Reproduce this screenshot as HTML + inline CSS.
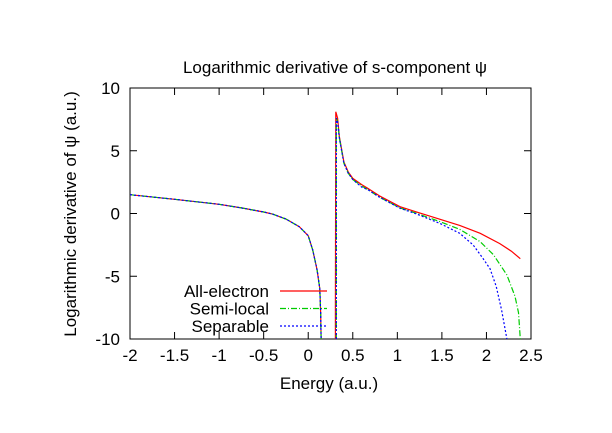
<!DOCTYPE html>
<html><head><meta charset="utf-8"><style>
html,body{margin:0;padding:0;background:#fff}
svg text{font-family:"Liberation Sans",sans-serif;font-size:17px;fill:#000}
</style></head><body>
<svg id="chart" width="612" height="428" xmlns="http://www.w3.org/2000/svg">
<text x="335" y="73" text-anchor="middle">Logarithmic derivative of s-component ψ</text>
<text x="329" y="389" text-anchor="middle">Energy (a.u.)</text>
<text transform="translate(76,214) rotate(-90)" text-anchor="middle">Logarithmic derivative of ψ (a.u.)</text>
<g id="axes"></g>
<g id="series"></g>
<g id="legend"></g>
</svg>
<script>
const xTicks=[-2,-1.5,-1,-0.5,0,0.5,1,1.5,2,2.5];
const yTicks=[-10,-5,0,5,10];
const leftX=[-2,-1.5,-1,-0.75,-0.5,-0.4,-0.25,-0.1,0,0.05,0.1,0.13,0.14,0.145];
const leftY=[1.5,1.13,0.73,0.45,0.12,-0.05,-0.44,-1.05,-1.77,-2.9,-4.5,-6.0,-8,-10];
const aeX=[0.305,0.305,0.31,0.33,0.35,0.4,0.45,0.5,0.6,0.67,0.8,1.03,1.2,1.48,1.7,1.93,2.15,2.28,2.38];
const aeY=[-10,-7.6,8.1,7.6,6.1,4.1,3.3,2.8,2.3,2.0,1.4,0.54,0.15,-0.46,-0.95,-1.58,-2.4,-3.0,-3.6];
const slX=[0.315,0.315,0.33,0.35,0.4,0.45,0.5,0.6,0.67,0.8,1.03,1.2,1.48,1.7,1.93,2.08,2.23,2.32,2.36,2.38];
const slY=[-10,7.6,7.3,6.0,4.0,3.2,2.7,2.2,1.9,1.3,0.45,0.05,-0.65,-1.26,-2.25,-3.3,-4.9,-6.6,-7.9,-10];
const spX=[0.315,0.315,0.33,0.35,0.4,0.45,0.5,0.6,0.67,0.8,1.03,1.2,1.48,1.7,1.85,1.96,2.04,2.11,2.17,2.23];
const spY=[-10,7.6,7.3,6.0,4.0,3.2,2.7,2.1,1.9,1.3,0.42,0.0,-0.8,-1.58,-2.5,-3.57,-4.4,-5.8,-7.7,-10];
const L=130,R=531,T=88,B=339;
const sx=v=>L+(v+2)/4.5*(R-L);
const sy=v=>B-(v+10)/20*(B-T);
const NS="http://www.w3.org/2000/svg";
function mk(tag,attrs,parent){const e=document.createElementNS(NS,tag);for(const k in attrs)e.setAttribute(k,attrs[k]);parent.appendChild(e);return e;}
const axes=document.getElementById('axes');
const frame=mk('rect',{x:L,y:T,width:R-L,height:B-T,fill:'none',stroke:'#000','stroke-width':1},axes);


xTicks.forEach(v=>{
  const x=sx(v);
  const t1=mk('line',{x1:x,x2:x,y1:B,y2:B-7,stroke:'#000'},axes);
  
  
  const t2=mk('line',{x1:x,x2:x,y1:T,y2:T+7,stroke:'#000'},axes);
  
  
  const lb=mk('text',{x:x,y:B+22,'text-anchor':'middle'},axes);lb.textContent=String(v);
  
  
});
yTicks.forEach(v=>{
  const y=sy(v);
  const t1=mk('line',{x1:L,x2:L+7,y1:y,y2:y,stroke:'#000'},axes);
  
  
  const t2=mk('line',{x1:R,x2:R-7,y1:y,y2:y,stroke:'#000'},axes);
  
  
  const lb=mk('text',{x:L-10,y:y+6,'text-anchor':'end'},axes);lb.textContent=String(v);
  
  
});
const ser=document.getElementById('series');
function line(xs,ys,color,dash,name){
  const d=xs.map((x,i)=>(i?'L':'M')+sx(x).toFixed(1)+','+sy(ys[i]).toFixed(1)).join('');
  const p=mk('path',{d:d,fill:'none',stroke:color,'stroke-width':1.2,'stroke-dasharray':dash},ser);
  
  
}
line(leftX,leftY,'#f00','none','all-electron-left');
line(aeX,aeY,'#f00','none','all-electron-line');
line(leftX,leftY,'#0c0','6,2,1,2','semi-local-left');
line(slX,slY,'#0c0','6,2,1,2','semi-local-line');
line(leftX,leftY,'#00f','2,2','separable-left');
line(spX,spY,'#00f','2,2','separable-line');
const lg=document.getElementById('legend');
[['All-electron','#f00','none'],['Semi-local','#0c0','6,2,1,2'],['Separable','#00f','2,2']].forEach((e,i)=>{
  const y=291+i*17.5;
  const t=mk('text',{x:269,y:y+6,'text-anchor':'end'},lg);t.textContent=e[0];
  
  
  const l=mk('line',{x1:280,x2:327,y1:y,y2:y,stroke:e[1],'stroke-width':1.2,'stroke-dasharray':e[2]},lg);
  
  
});
</script>
</body></html>
